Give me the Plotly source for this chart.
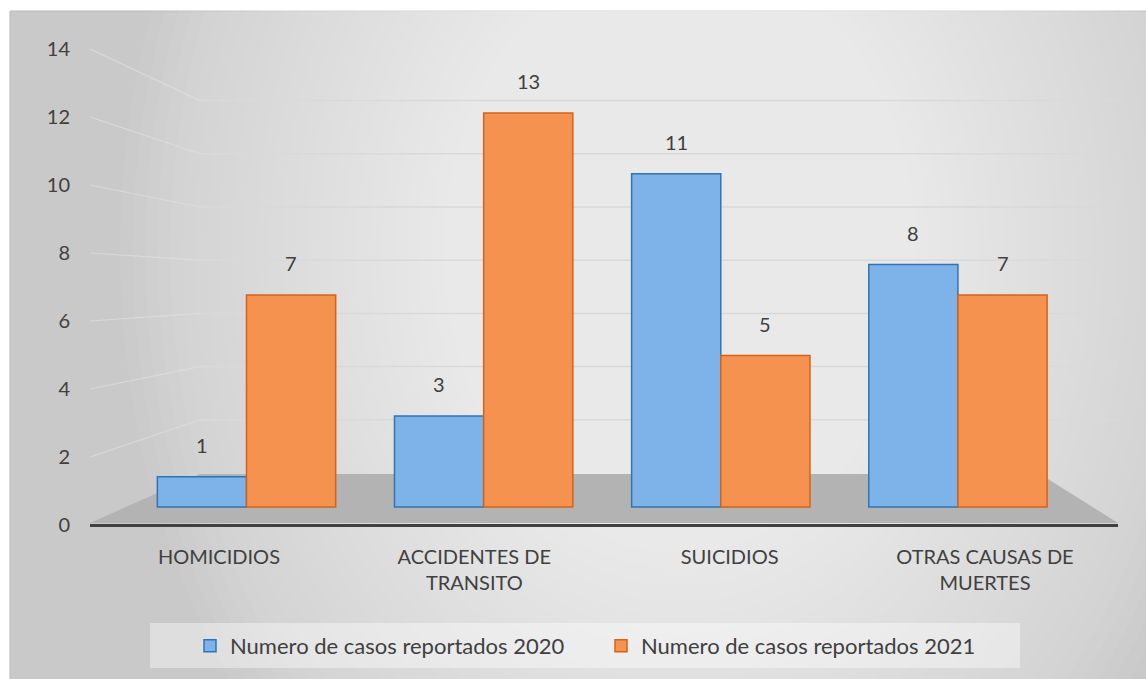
import plotly.graph_objects as go

# ---- data ----
categories = ["HOMICIDIOS", "ACCIDENTES DE<br>TRANSITO", "SUICIDIOS", "OTRAS CAUSAS DE<br>MUERTES"]
series_names = ["Numero de casos reportados 2020", "Numero de casos reportados 2021"]
values_2020 = [1, 3, 11, 8]
values_2021 = [7, 13, 5, 7]
y_ticks = [0, 2, 4, 6, 8, 10, 12, 14]

# ---- geometry helpers (pixel -> paper) ----
W, H = 1146, 679
PL, PR, PT, PB = 90, 1118, 40, 540
def px(x):
    return (x - PL) / (PR - PL)
def py(y):
    return (PB - y) / (PB - PT)

FONT = "Lato, 'Open Sans', sans-serif"
TXT = "#404040"
BLUE_FILL, BLUE_LINE = "#7db3e8", "#2f75b5"
ORG_FILL, ORG_LINE = "#f5924f", "#d4631a"

idx = list(range(len(categories)))
bar_w = 0.376

fig = go.Figure()

# dummy traces to create the axis pairs
fig.add_trace(go.Scatter(x=[None], y=[None], xaxis="x", yaxis="y", showlegend=False, hoverinfo="skip"))
fig.add_trace(go.Scatter(x=[None], y=[None], xaxis="x2", yaxis="y", showlegend=False, hoverinfo="skip"))

fig.add_trace(go.Bar(x=idx, y=values_2020, name=series_names[0], xaxis="x", yaxis="y2",
                     marker=dict(color=BLUE_FILL, line=dict(color=BLUE_LINE, width=1.5)),
                     width=bar_w, offset=-bar_w))
fig.add_trace(go.Bar(x=idx, y=values_2021, name=series_names[1], xaxis="x", yaxis="y2",
                     marker=dict(color=ORG_FILL, line=dict(color=ORG_LINE, width=1.5)),
                     width=bar_w, offset=0))

annotations = []
for i, v in zip(idx, values_2020):
    annotations.append(dict(x=i - bar_w / 2, y=v, xref="x", yref="y2", text=str(v), showarrow=False,
                            yshift=32, font=dict(family=FONT, size=20, color=TXT)))
for i, v in zip(idx, values_2021):
    annotations.append(dict(x=i + bar_w / 2, y=v, xref="x", yref="y2", text=str(v), showarrow=False,
                            yshift=32, font=dict(family=FONT, size=20, color=TXT)))

shapes = []
# chart background box
shapes.append(dict(type="rect", xref="paper", yref="paper", x0=px(10), x1=px(1160), y0=py(690), y1=py(11),
                   fillcolor="#c9c9c9", line=dict(color="#bababa", width=1), layer="below"))
# radial-ish gradient (smooth, many thin layers)
N = 45
cx, cy, RX, RY = 680, 250, 560, 720
for k in range(N, 0, -1):
    rx = RX * k / N
    ry = RY * k / N
    shapes.append(dict(type="circle", xref="paper", yref="paper",
                       x0=px(cx - rx), x1=px(cx + rx), y0=py(cy + ry), y1=py(cy - ry),
                       fillcolor="white", opacity=0.045, line=dict(width=0), layer="below"))
# back-wall gridlines (bent toward the tick labels)
for t in y_ticks[1:]:
    y_back = 473 - 26.6 * t
    y_lab = 525 - 34 * t
    shapes.append(dict(type="line", xref="paper", yref="paper",
                       x0=px(90), y0=py(y_lab), x1=px(200), y1=py(y_back),
                       line=dict(color="#e0e0e0", width=1.2), opacity=0.7, layer="below"))
    shapes.append(dict(type="line", xref="paper", yref="paper",
                       x0=px(200), y0=py(y_back), x1=px(1118), y1=py(y_back),
                       line=dict(color="#d9d9d9", width=1.5), layer="below"))
# floor
shapes.append(dict(type="path", xref="paper", yref="paper",
                   path=f"M {px(90)},{py(523)} L {px(200)},{py(474)} L {px(1040)},{py(474)} L {px(1118)},{py(523)} Z",
                   fillcolor="#b3b3b3", line=dict(width=0), layer="below"))
# legend box
shapes.append(dict(type="rect", xref="paper", yref="paper", x0=px(150), x1=px(1020), y0=py(668), y1=py(623),
                   fillcolor="rgba(255,255,255,0.4)", line=dict(width=0), layer="below"))

fig.update_layout(
    width=W, height=H,
    margin=dict(l=PL, r=W - PR, t=PT, b=H - PB),
    paper_bgcolor="white", plot_bgcolor="rgba(0,0,0,0)",
    font=dict(family=FONT, size=20, color=TXT),
    barmode="overlay",
    showlegend=True,
    legend=dict(orientation="h", x=0.5 - 3 / (PR - PL), xanchor="center", y=py(646), yanchor="middle",
                bgcolor="rgba(0,0,0,0)", font=dict(family=FONT, size=22, color=TXT),
                entrywidth=366, entrywidthmode="pixels"),
    xaxis=dict(range=[-0.66, 3.675], showticklabels=False, showgrid=False, zeroline=False, showline=False,
               fixedrange=True),
    xaxis2=dict(overlaying="x", side="bottom", range=[-0.505, 3.521], tickvals=idx, ticktext=categories,
                showgrid=False, zeroline=False, showline=False, ticks="", ticklabelstandoff=3,
                tickfont=dict(family=FONT, size=20, color=TXT)),
    yaxis=dict(range=[-0.441, 14.265], tickvals=y_ticks, showgrid=False, zeroline=True,
               zerolinecolor="#404040", zerolinewidth=3, showline=False, ticks="",
               ticklabelstandoff=19, tickfont=dict(family=FONT, size=20, color=TXT)),
    yaxis2=dict(overlaying="y", range=[-1.089, 15.413], showgrid=False, zeroline=False,
                showticklabels=False, showline=False),
    shapes=shapes,
    annotations=annotations,
)

fig.write_html("out.html", config={"displayModeBar": False},
               post_script="document.body.style.margin='0';document.body.style.overflow='hidden';")
